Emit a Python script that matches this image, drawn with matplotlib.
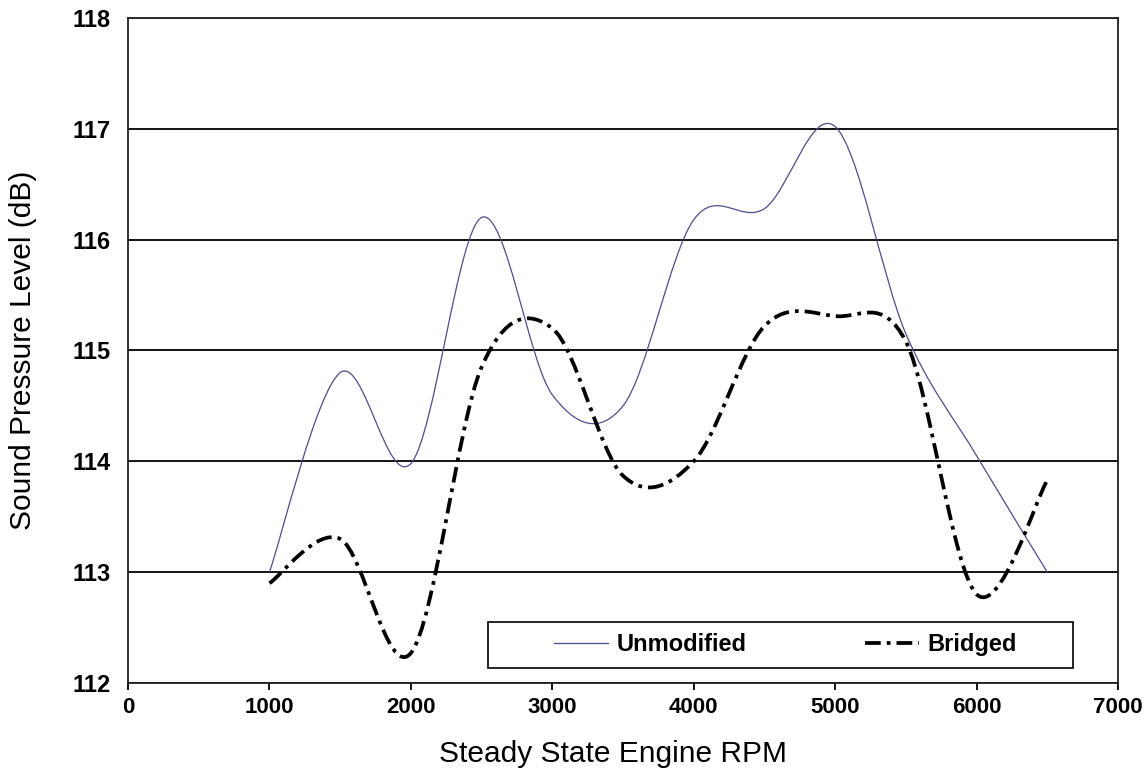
import matplotlib
matplotlib.use("Agg")
import matplotlib.pyplot as plt
import numpy as np
from matplotlib.path import Path
from matplotlib.patches import PathPatch, Rectangle
from matplotlib.lines import Line2D

# values, every 500 rpm
rpm = [1000, 1500, 2000, 2500, 3000, 3500, 4000, 4500, 5000, 5500, 6000, 6500]
unmodified = [113.0, 114.8, 113.98, 116.2, 114.6, 114.5, 116.18, 116.28, 117.02, 115.15, 114.05, 113.0]
bridged = [112.9, 113.3, 112.27, 114.85, 115.2, 113.87, 114.0, 115.22, 115.31, 115.08, 112.8, 113.83]

x_ticks = [0, 1000, 2000, 3000, 4000, 5000, 6000, 7000]
y_ticks = [112, 113, 114, 115, 116, 117, 118]

plt.rcParams['font.family'] = ['Liberation Sans', 'DejaVu Sans']


# spreadsheet-style smoothed line: cubic bezier through each point,
# control points from the neighbours (catmull-rom, 1/6 rule)
def smooth_path(xs, ys):
    p = np.column_stack([xs, ys]).astype(float)
    n = len(p)
    verts = [p[0]]
    codes = [Path.MOVETO]
    for i in range(n - 1):
        prev = p[i - 1] if i > 0 else p[i]
        nxt = p[i + 2] if i + 2 < n else p[i + 1]
        c1 = p[i] + (p[i + 1] - prev) / 6.0
        c2 = p[i + 1] - (nxt - p[i]) / 6.0
        verts += [c1, c2, p[i + 1]]
        codes += [Path.CURVE4] * 3
    return Path(verts, codes)


fig = plt.figure(figsize=(11.46, 7.72), dpi=100)
ax = fig.add_axes([0.1117, 0.1153, 0.8639, 0.8614])

unmod_color = '#4d4d8e'
bridged_style = (0, (4.2, 1.6, 1, 1.6))

ax.add_patch(PathPatch(smooth_path(rpm, unmodified), fill=False,
                       edgecolor=unmod_color, linewidth=0.9, zorder=3))
ax.add_patch(PathPatch(smooth_path(rpm, bridged), fill=False,
                       edgecolor='black', linewidth=2.7, linestyle=bridged_style,
                       capstyle='butt', zorder=3))

ax.set_xlim(0, 7000)
ax.set_ylim(112, 118)
ax.set_xticks(x_ticks)
ax.set_yticks(y_ticks)
ax.yaxis.grid(True, color='black', linewidth=1.3)
ax.set_axisbelow(True)
for s in ax.spines.values():
    s.set_linewidth(1.3)
    s.set_color('#222222')

ax.tick_params(axis='x', direction='out', length=5, width=1.3, pad=5,
               labelsize=16)
ax.tick_params(axis='y', length=0, pad=12.5, labelsize=17)
for lab in ax.get_xticklabels() + ax.get_yticklabels():
    lab.set_fontweight('bold')

ax.set_xlabel('Steady State Engine RPM', fontsize=21.5)
ax.set_ylabel('Sound Pressure Level (dB)', fontsize=21.5)
ax.xaxis.set_label_coords(0.49, -0.086)
ax.yaxis.set_label_coords(-0.092, 0.5)

# legend box drawn by hand, entries centred inside it
ax.add_patch(Rectangle((0.3636, 0.0226), 0.5909, 0.0692, transform=ax.transAxes,
                       facecolor='white', edgecolor='black', linewidth=1.2,
                       zorder=4))
handles = [Line2D([], [], color=unmod_color, linewidth=0.9),
           Line2D([], [], color='black', linewidth=2.7, linestyle=bridged_style)]
leg = ax.legend(handles, ['Unmodified', 'Bridged'], ncol=2, loc='center',
                bbox_to_anchor=(0.664, 0.0572), frameon=False,
                prop={'weight': 'bold', 'size': 17}, handlelength=2.3,
                handletextpad=0.35, columnspacing=5.0, borderpad=0,
                borderaxespad=0)
leg.set_zorder(5)

fig.savefig('out.png', dpi=100)
